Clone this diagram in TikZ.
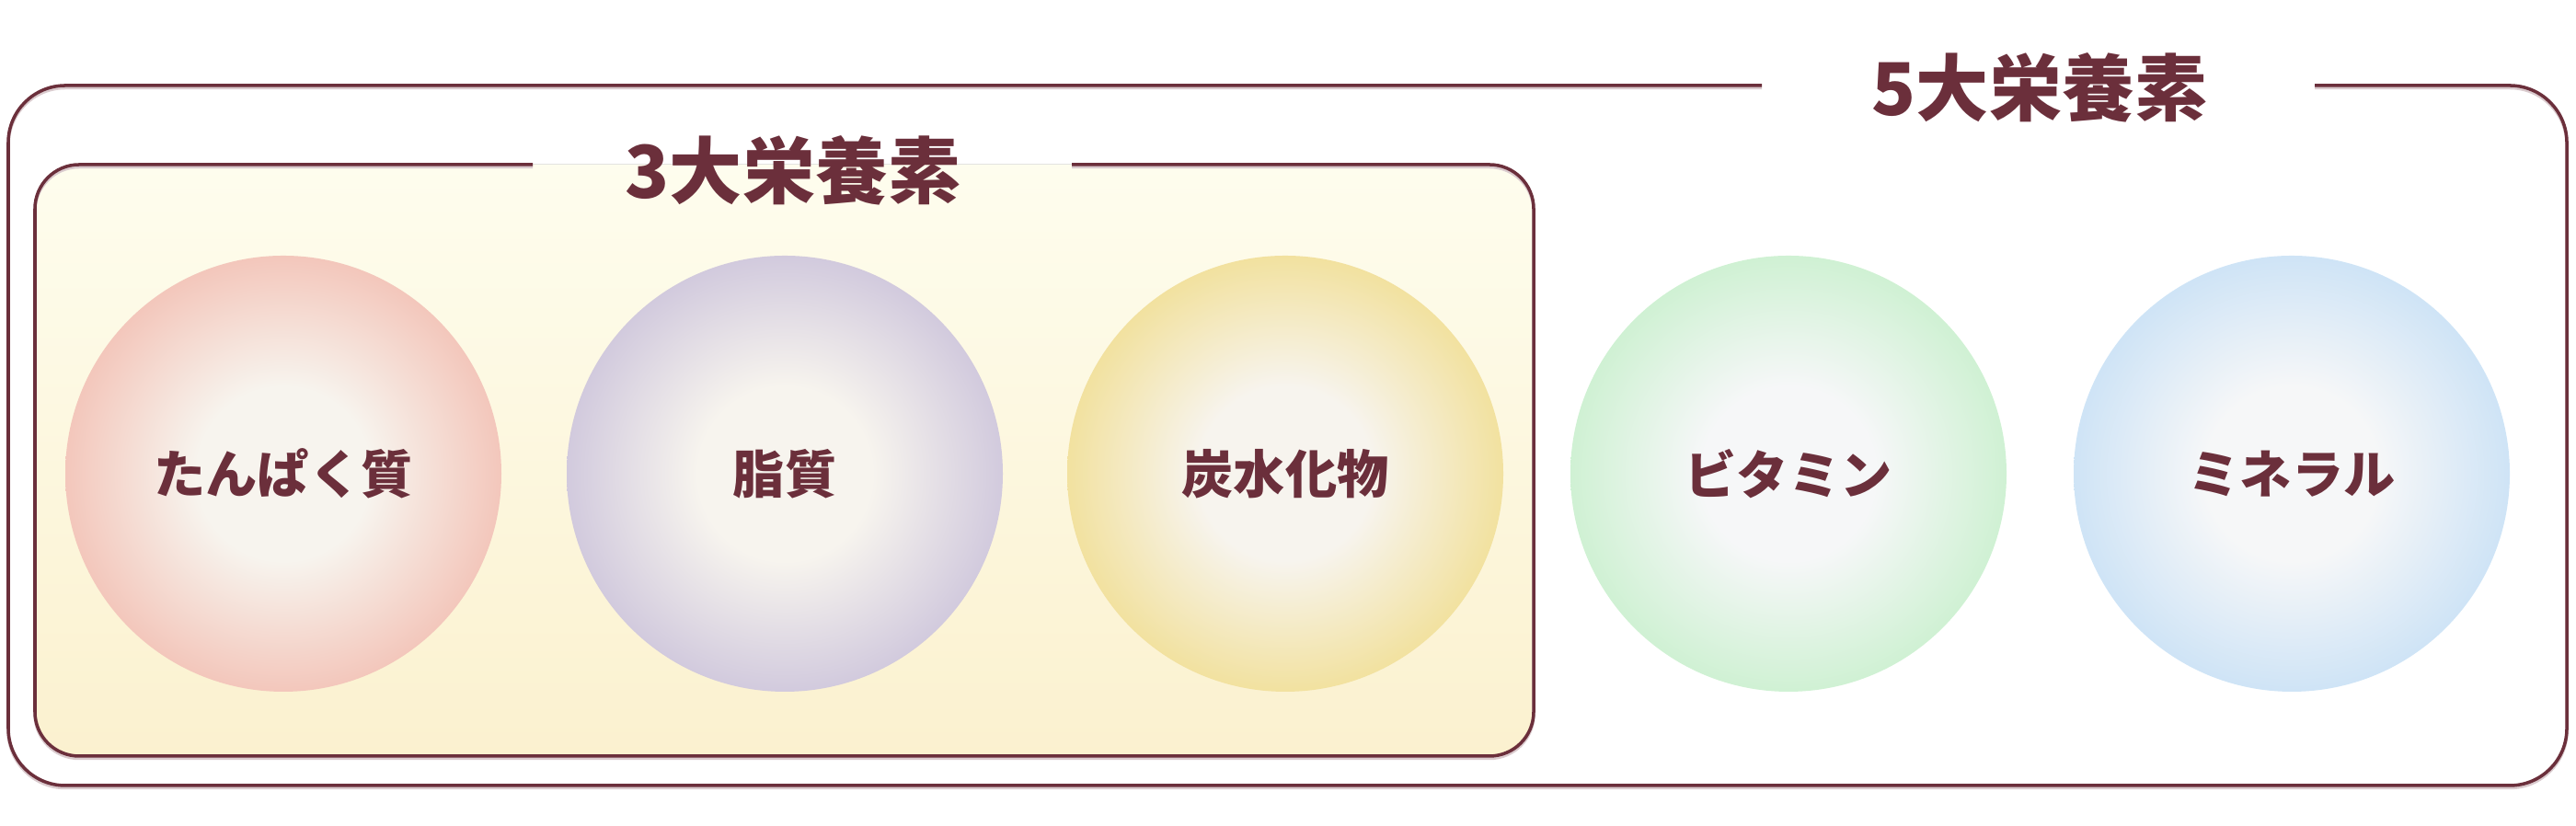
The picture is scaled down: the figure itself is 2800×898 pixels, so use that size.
\documentclass[tikz,border=0pt]{standalone}
\usepackage{fontspec}
\newfontfamily\jpfont{Noto Sans CJK JP}
\usetikzlibrary{positioning}

\definecolor{maroon}{HTML}{6B2F3B}
\definecolor{ballmid}{HTML}{F7F4EE}
\definecolor{coolmid}{HTML}{F6F7F8}
\definecolor{creamtop}{HTML}{FEFDEE}
\definecolor{creambot}{HTML}{FBF1CF}
\definecolor{creammid}{HTML}{FDF8E2}
\definecolor{redrim}{HTML}{F1B0A2}
\definecolor{violetrim}{HTML}{BFB5D5}
\definecolor{yellowrim}{HTML}{EFD878}
\definecolor{greenrim}{HTML}{BCEEC1}
\definecolor{bluerim}{HTML}{BBDAF5}

% the circle edge sits at about 35bp of the 50bp shading
\pgfdeclareradialshading{redball}{\pgfpointorigin}{color(0bp)=(ballmid); color(10bp)=(ballmid); color(32.5bp)=(redrim); color(34bp)=(redrim); color(35.4bp)=(creammid); color(50bp)=(creammid)}
\pgfdeclareradialshading{violetball}{\pgfpointorigin}{color(0bp)=(ballmid); color(10bp)=(ballmid); color(32.5bp)=(violetrim); color(34bp)=(violetrim); color(35.4bp)=(creammid); color(50bp)=(creammid)}
\pgfdeclareradialshading{yellowball}{\pgfpointorigin}{color(0bp)=(ballmid); color(10bp)=(ballmid); color(32.5bp)=(yellowrim); color(34bp)=(yellowrim); color(35.4bp)=(creammid); color(50bp)=(creammid)}
\pgfdeclareradialshading{greenball}{\pgfpointorigin}{color(0bp)=(coolmid); color(10bp)=(coolmid); color(32.5bp)=(greenrim); color(34bp)=(greenrim); color(35.4bp)=(white); color(50bp)=(white)}
\pgfdeclareradialshading{blueball}{\pgfpointorigin}{color(0bp)=(coolmid); color(10bp)=(coolmid); color(32.5bp)=(bluerim); color(34bp)=(bluerim); color(35.4bp)=(white); color(50bp)=(white)}

\tikzset{
  ball/.style={circle, minimum size=47.4mm, inner sep=0pt, text=maroon,
    font=\jpfont\bfseries\fontsize{16pt}{16pt}\selectfont},
  heading/.style={inner sep=0pt, text=maroon,
    font=\jpfont\bfseries\fontsize{22.5pt}{22.5pt}\selectfont},
  frame/.style={draw=maroon, line width=1pt},
  frameshadow/.style={draw=maroon!25, line width=1pt, yshift=-0.25mm}
}

\begin{document}
\begin{tikzpicture}[x=0.1mm, y=0.1mm]
  \useasboundingbox (0,0) rectangle (2800,898);

  % outer frame, open under the heading
  \draw[frameshadow, rounded corners=6.2mm] (1915,805) -- (9,805) -- (9,44) -- (2790,44) -- (2790,805) -- (2516,805);
  \draw[frame, rounded corners=6.2mm] (1915,805) -- (9,805) -- (9,44) -- (2790,44) -- (2790,805) -- (2516,805);
  \node[heading] (five) at (2217,803) {5大栄養素};

  % inner panel
  \fill[top color=creamtop, bottom color=creambot, rounded corners=4.8mm] (38,76) rectangle (1667,719);
  \draw[frameshadow, rounded corners=4.8mm] (579,719) -- (38,719) -- (38,76) -- (1667,76) -- (1667,719) -- (1165,719);
  \draw[frame, rounded corners=4.8mm] (579,719) -- (38,719) -- (38,76) -- (1667,76) -- (1667,719) -- (1165,719);
  \node[heading] (three) at (862,713) {3大栄養素};

  % nutrients
  \node[ball, shading=redball] (protein) at (308,383) {たんぱく質};
  \node[ball, shading=violetball] (fat) at (853,383) {脂質};
  \node[ball, shading=yellowball] (carbs) at (1397,383) {炭水化物};
  \node[ball, shading=greenball] (vitamin) at (1944,383) {ビタミン};
  \node[ball, shading=blueball] (mineral) at (2491,383) {ミネラル};
\end{tikzpicture}
\end{document}
